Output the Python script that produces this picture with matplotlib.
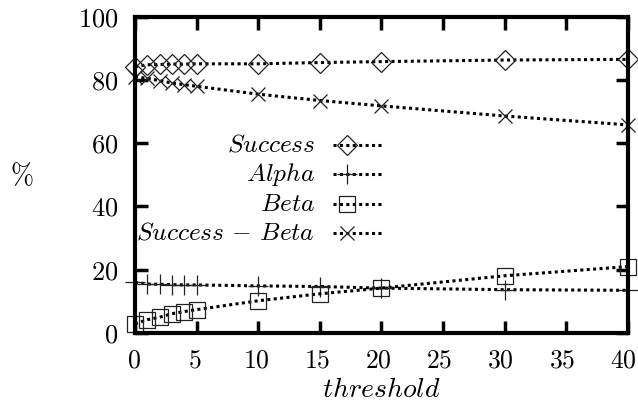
import numpy as np
import matplotlib
matplotlib.use('Agg')
import matplotlib.pyplot as plt
from matplotlib.transforms import ScaledTranslation

plt.rcParams['mathtext.fontset'] = 'cm'
plt.rcParams['font.family'] = 'cmr10'
plt.rcParams['axes.formatter.use_mathtext'] = True

# threshold values and measured percentages
threshold = [0, 1, 2, 3, 4, 5, 10, 15, 20, 30, 40]
success = [84.2, 84.8, 84.9, 85.0, 85.0, 85.1, 85.1, 85.5, 85.8, 86.3, 86.5]
alpha = [16.0, 15.5, 15.4, 15.3, 15.2, 15.2, 14.9, 14.7, 14.2, 13.7, 13.5]
beta = [2.9, 4.2, 5.0, 6.1, 6.8, 7.4, 10.2, 12.4, 14.2, 18.1, 21.0]
success_beta = [81.0, 80.5, 79.8, 79.0, 78.5, 78.0, 75.5, 73.5, 71.8, 68.6, 65.8]

labels = [r'$Success$', r'$Alpha$', r'$Beta$', r'$Success\,-\,Beta$']
markers = ['D', '+', 's', 'x']
msizes = [10, 14.5, 11.5, 10]
series = [success, alpha, beta, success_beta]

xticks = list(range(0, 41, 5))
yticks = list(range(0, 101, 20))

fig = plt.figure(figsize=(6.38, 4.04), dpi=100)
ax = fig.add_axes([0.2116, 0.1757, 0.7727, 0.783])

dotted = (0, (1, 1.1))
for vals, mk, ms in zip(series, markers, msizes):
    ax.plot(threshold, vals, color='black', lw=2.2, linestyle=dotted,
            dash_capstyle='butt', clip_on=False)
    ax.plot(threshold, vals, linestyle='none', marker=mk, ms=ms,
            mfc='none', mec='#222222', mew=0.9, clip_on=False)

# key: right-aligned italic labels with line sample and symbol
for i, (lab, mk, ms) in enumerate(zip(labels, markers, msizes)):
    y = 0.595 - i * 0.093
    ax.text(0.365, y, lab, transform=ax.transAxes, ha='right', va='center',
            fontsize=18.3)
    ax.plot([0.402, 0.501], [y, y], transform=ax.transAxes, color='black',
            lw=2.2, linestyle=dotted, dash_capstyle='butt', clip_on=False)
    ax.plot([0.430], [y], transform=ax.transAxes, linestyle='none', marker=mk,
            ms=ms, mfc='none', mec='#222222', mew=0.9, clip_on=False)

ax.set_xlim(0, 40)
ax.set_ylim(0, 100)
ax.set_xticks(xticks)
ax.set_yticks(yticks)
ax.set_xticklabels([])
ax.set_yticklabels([f'${v}$' for v in yticks])
ax.tick_params(direction='in', length=9, width=2.5, top=True, right=True,
               labelsize=19)
ax.tick_params(axis='y', pad=12)
for sp in ax.spines.values():
    sp.set_linewidth(3)

# x tick labels placed below the frame, nudged a little left
xt = ax.get_xaxis_transform()
for v in xticks:
    shift = ScaledTranslation((-1 - 0.1 * v) / 100, -28 / 100,
                              fig.dpi_scale_trans)
    ax.text(v, 0, f'${v}$', transform=xt + shift, ha='center', va='center',
            fontsize=18.5)

ax.set_xlabel(r'$threshold$', fontsize=20)
ax.xaxis.set_label_coords(0.5, -0.18)
ax.xaxis.label.set_va('center')
ax.set_ylabel(r'$\%$', fontsize=20, rotation=0, va='center', ha='center')
ax.yaxis.set_label_coords(-0.229, 0.497)

fig.savefig('out.png', dpi=100)
